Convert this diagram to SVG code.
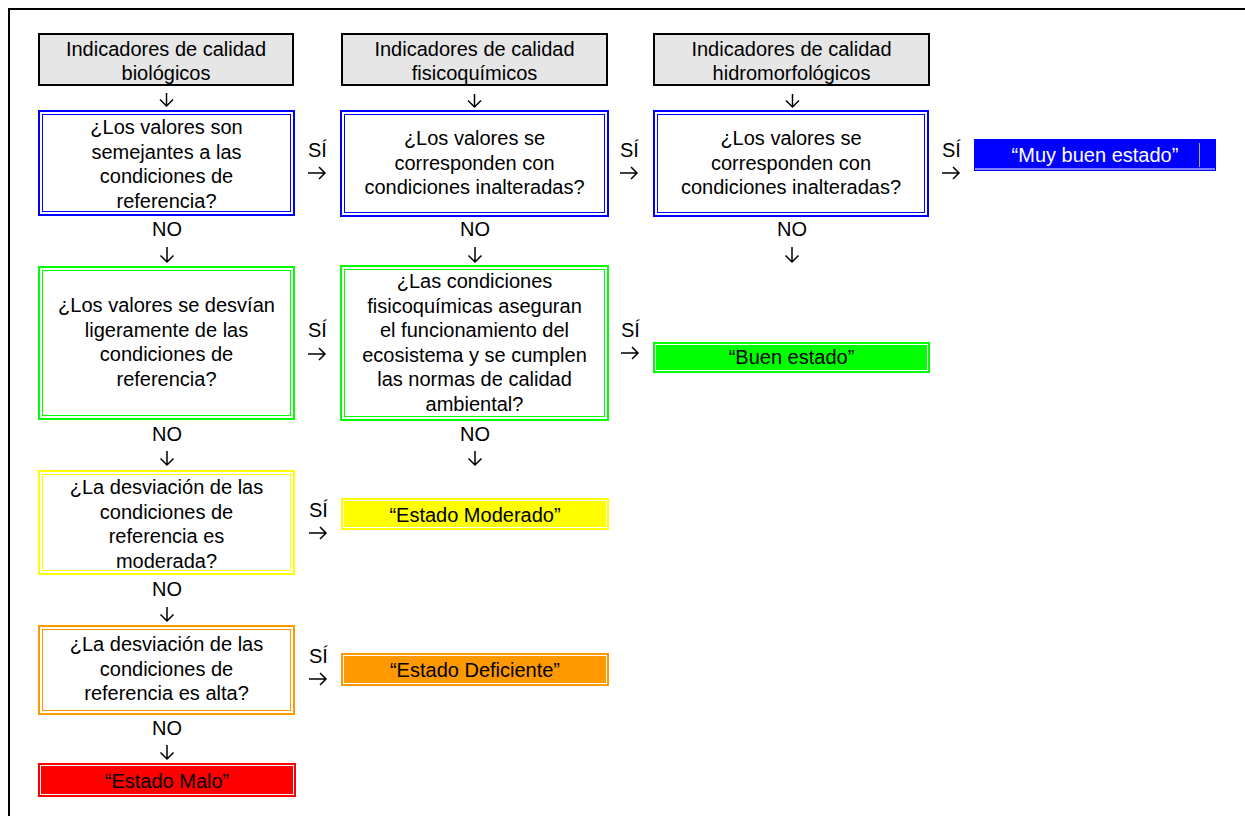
<svg xmlns="http://www.w3.org/2000/svg" width="1245" height="816" viewBox="0 0 1245 816">
<style>
text{font-family:"Liberation Sans",Arial,sans-serif;font-size:20px;fill:#000}
.c{text-anchor:middle}
.w{fill:#fff}
.hdr{fill:#e6e6e6;stroke:#000;stroke-width:2}
.o{fill:#fff;stroke-width:2}
.i{fill:none;stroke-width:1}
.wi{fill:none;stroke:#fff;stroke-width:1}
.blue{stroke:#0000ff}.green{stroke:#00ff00}.yellow{stroke:#ffff00}.orange{stroke:#ff9900}
.arr{fill:none;stroke:#000;stroke-width:1.5}
</style>
<rect x="9" y="9" width="1250" height="820" fill="none" stroke="#000" stroke-width="2"/>

<g id="h1"><rect class="hdr" x="39" y="34" width="254" height="51"/><text class="c" x="166" y="56">Indicadores de calidad</text><text class="c" x="166" y="80">biológicos</text></g>
<g id="h2"><rect class="hdr" x="342" y="34" width="265" height="51"/><text class="c" x="474.5" y="56">Indicadores de calidad</text><text class="c" x="474.5" y="80">fisicoquímicos</text></g>
<g id="h3"><rect class="hdr" x="654" y="34" width="275" height="51"/><text class="c" x="791.5" y="56">Indicadores de calidad</text><text class="c" x="791.5" y="80">hidromorfológicos</text></g>

<g id="q1"><rect class="o blue" x="39" y="111" width="255" height="104"/><rect class="i blue" x="42.5" y="114.5" width="248" height="97"/>
<text class="c" x="166.5" y="134">¿Los valores son</text><text class="c" x="166.5" y="158.5">semejantes a las</text><text class="c" x="166.5" y="183">condiciones de</text><text class="c" x="166.5" y="207.5">referencia?</text></g>
<g id="q2"><rect class="o blue" x="341" y="111" width="267" height="105"/><rect class="i blue" x="344.5" y="114.5" width="260" height="98"/>
<text class="c" x="474.5" y="145">¿Los valores se</text><text class="c" x="474.5" y="169.5">corresponden con</text><text class="c" x="474.5" y="194">condiciones inalteradas?</text></g>
<g id="q3"><rect class="o blue" x="654" y="111" width="274" height="105"/><rect class="i blue" x="657.5" y="114.5" width="267" height="98"/>
<text class="c" x="791" y="145">¿Los valores se</text><text class="c" x="791" y="169.5">corresponden con</text><text class="c" x="791" y="194">condiciones inalteradas?</text></g>

<g id="r1"><rect x="974" y="139" width="242" height="32" fill="#0000ff"/><line x1="975" y1="169" x2="1215" y2="169" stroke="#fff" stroke-width="1"/><line x1="1199.5" y1="143" x2="1199.5" y2="167" stroke="#aab" stroke-width="1"/>
<text class="c w" x="1095" y="162">“Muy buen estado”</text></g>

<g id="q4"><rect class="o green" x="39" y="267" width="255" height="152"/><rect class="i green" x="42.5" y="270.5" width="248" height="145"/>
<text class="c" x="166.5" y="312">¿Los valores se desvían</text><text class="c" x="166.5" y="336.5">ligeramente de las</text><text class="c" x="166.5" y="361">condiciones de</text><text class="c" x="166.5" y="385.5">referencia?</text></g>
<g id="q5"><rect class="o green" x="341" y="266" width="267" height="154"/><rect class="i green" x="344.5" y="269.5" width="260" height="147"/>
<text class="c" x="474.5" y="288">¿Las condiciones</text><text class="c" x="474.5" y="312.5">fisicoquímicas aseguran</text><text class="c" x="474.5" y="337">el funcionamiento del</text><text class="c" x="474.5" y="361.5">ecosistema y se cumplen</text><text class="c" x="474.5" y="386">las normas de calidad</text><text class="c" x="474.5" y="410.5">ambiental?</text></g>

<g id="r2"><rect x="653" y="342" width="277" height="31" fill="#00ff00"/><rect class="wi" x="655.5" y="344.5" width="272" height="26"/>
<text class="c" x="791.5" y="364">“Buen estado”</text></g>

<g id="q6"><rect class="o yellow" x="39" y="471" width="255" height="103"/><rect class="i yellow" x="42.5" y="474.5" width="248" height="96"/>
<text class="c" x="166.5" y="494">¿La desviación de las</text><text class="c" x="166.5" y="518.5">condiciones de</text><text class="c" x="166.5" y="543">referencia es</text><text class="c" x="166.5" y="567.5">moderada?</text></g>
<g id="r3"><rect x="341" y="498" width="268" height="32" fill="#ffff00"/><rect class="wi" x="343.5" y="500.5" width="263" height="27"/>
<text class="c" x="475" y="522">“Estado Moderado”</text></g>

<g id="q7"><rect class="o orange" x="39" y="626" width="255" height="88"/><rect class="i orange" x="42.5" y="629.5" width="248" height="81"/>
<text class="c" x="166.5" y="651">¿La desviación de las</text><text class="c" x="166.5" y="675.5">condiciones de</text><text class="c" x="166.5" y="700">referencia es alta?</text></g>
<g id="r4"><rect x="341" y="653" width="268" height="33" fill="#ff9900"/><rect class="wi" x="343.5" y="655.5" width="263" height="28"/>
<text class="c" x="475" y="677">“Estado Deficiente”</text></g>

<g id="r5"><rect x="38" y="763" width="258" height="34" fill="#ff0000"/><rect class="wi" x="40.5" y="765.5" width="253" height="29"/>
<text class="c" x="167" y="788">“Estado Malo”</text></g>

<g id="connectors">
<path class="arr" d="M166.5,93 V106 M160,99.5 L166.5,106 L173,99.5"/>
<path class="arr" d="M474.5,94 V107 M468,100.5 L474.5,107 L481,100.5"/>
<path class="arr" d="M792.5,94 V107 M786,100.5 L792.5,107 L799,100.5"/>
<text x="308" y="157">SÍ</text><path class="arr" d="M308,173 H325 M319,167 L325,173 L319,179"/>
<text x="620" y="157">SÍ</text><path class="arr" d="M620,173 H637 M631,167 L637,173 L631,179"/>
<text x="942" y="157">SÍ</text><path class="arr" d="M942,173 H959 M953,167 L959,173 L953,179"/>
<text class="c" x="167" y="236">NO</text><path class="arr" d="M167,247 V262 M160.5,255.5 L167,262 L173.5,255.5"/>
<text class="c" x="475" y="236">NO</text><path class="arr" d="M475,247 V262 M468.5,255.5 L475,262 L481.5,255.5"/>
<text class="c" x="792" y="236">NO</text><path class="arr" d="M792,247 V262 M785.5,255.5 L792,262 L798.5,255.5"/>
<text x="308" y="337">SÍ</text><path class="arr" d="M308,354 H325 M319,348 L325,354 L319,360"/>
<text x="621" y="337">SÍ</text><path class="arr" d="M621,353 H638 M632,347 L638,353 L632,359"/>
<text class="c" x="167" y="441">NO</text><path class="arr" d="M167,451 V465 M160.5,458.5 L167,465 L173.5,458.5"/>
<text class="c" x="475" y="441">NO</text><path class="arr" d="M475,451 V465 M468.5,458.5 L475,465 L481.5,458.5"/>
<text x="309" y="517">SÍ</text><path class="arr" d="M309,533 H326 M320,527 L326,533 L320,539"/>
<text class="c" x="167" y="596">NO</text><path class="arr" d="M167,607 V621 M160.5,614.5 L167,621 L173.5,614.5"/>
<text x="309" y="663">SÍ</text><path class="arr" d="M309,679 H326 M320,673 L326,679 L320,685"/>
<text class="c" x="167" y="735">NO</text><path class="arr" d="M167,745 V759 M160.5,752.5 L167,759 L173.5,752.5"/>
</g>
</svg>
